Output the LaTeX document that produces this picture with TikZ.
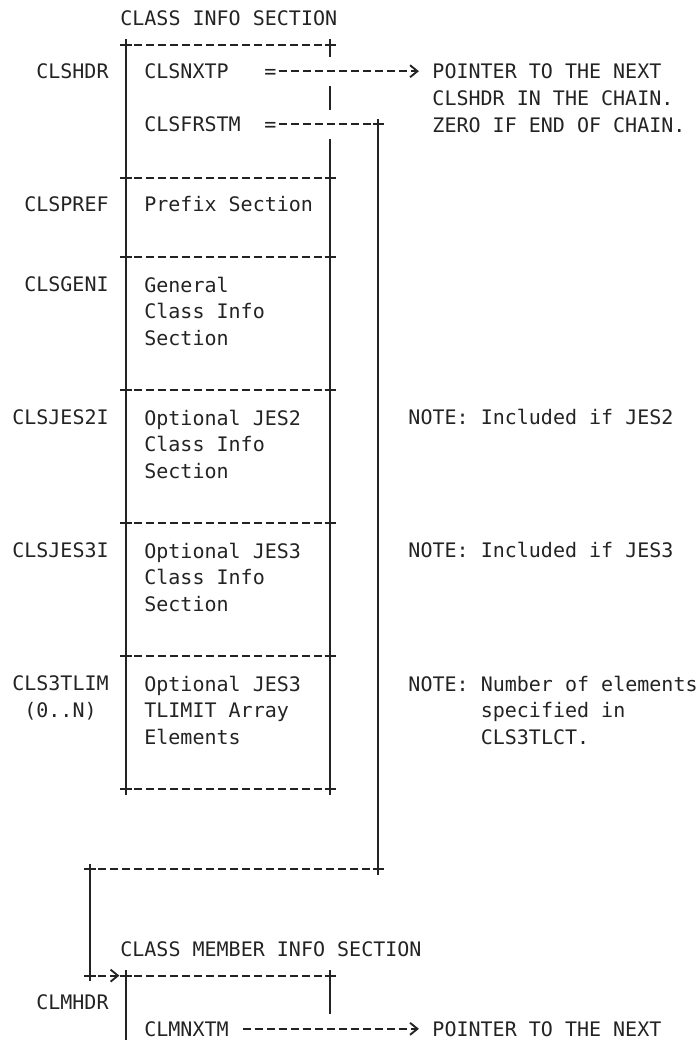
\documentclass[tikz,border=0pt]{standalone}
\usepackage{fontspec}
\usepackage{tikz}
\usetikzlibrary{arrows.meta, fit}
\newfontfamily\clsmono{DejaVu Sans Mono}
\definecolor{ink}{RGB}{35,35,35}

\tikzset{
  every node/.style={text=ink},
  lbl/.style={font=\clsmono\fontsize{15pt}{19.94pt}\selectfont, inner sep=0pt, anchor=west, text height=10.9pt, text depth=0pt},
  blk/.style={font=\clsmono\fontsize{15pt}{19.94pt}\selectfont, inner sep=0pt, anchor=north west, align=left},
  sect/.style={inner sep=0pt, outer sep=0pt, draw=none},
  bar/.style={draw=ink, line width=1.6pt},
  dsh/.style={draw=ink, line width=1.6pt, dash pattern=on 6pt off 3pt, dash phase=3pt},
  dshe/.style={dsh, dash phase=7.5pt},
  tip/.style={-{Straight Barb[length=5.5pt, width=9pt, line width=1.4pt]}},
  ptr/.style={dshe, tip},
  gap/.style={preaction={draw=white, solid, line width=22pt, arrows=-}},
  crn/.pic={\draw[bar] (-4.2pt,0) -- (4.2pt,0) (0,-4.2pt) -- (0,4.2pt);}
}

\begin{document}
\begin{tikzpicture}[x=9pt, y=-19.94pt]
\useasboundingbox (-0.5,-0.677) rectangle (57.5,38.42);

% class info section
\node[lbl] (clstitle) at (9.5,0) {CLASS INFO SECTION};
\node[sect, fit={(10,1) (27,6)}] (hdr) {};
\node[sect, fit={(10,6) (27,9)}] (pref) {};
\node[sect, fit={(10,9) (27,14)}] (geni) {};
\node[sect, fit={(10,14) (27,19)}] (jes2) {};
\node[sect, fit={(10,19) (27,24)}] (jes3) {};
\node[sect, fit={(10,24) (27,29)}] (tlim) {};

\foreach \b in {hdr,pref,geni,jes2,jes3,tlim} {
  \draw[bar] (\b.north west) -- (\b.south west) (\b.north east) -- (\b.south east);
  \draw[dsh] (\b.north west) -- (\b.north east);
  \draw[dsh] (\b.south west) -- (\b.south east);
  \pic at (\b.north west) {crn};
  \pic at (\b.north east) {crn};
  \pic at (\b.south west) {crn};
  \pic at (\b.south east) {crn};
}

\node[lbl] (clshdr) at (2.5,2) {CLSHDR};
\node[lbl] (nxtp) at (11.5,2) {CLSNXTP};
\node[lbl] (nxtp-eq) at (21.5,2) {=};
\node[lbl] (frstm) at (11.5,4) {CLSFRSTM};
\node[lbl] (frstm-eq) at (21.5,4) {=};
\node[blk] (ptr1) at (35.5,1.72) {POINTER TO THE NEXT\\CLSHDR IN THE CHAIN.\\ZERO IF END OF CHAIN.};

\node[lbl] (clspref) at (1.5,7) {CLSPREF};
\node[lbl] (pref-txt) at (11.5,7) {Prefix Section};

\node[lbl] (clsgeni) at (1.5,10) {CLSGENI};
\node[blk] (geni-txt) at (11.5,9.72) {General\\Class Info\\Section};

\node[lbl] (clsjes2i) at (0.5,15) {CLSJES2I};
\node[blk] (jes2-txt) at (11.5,14.72) {Optional JES2\\Class Info\\Section};
\node[lbl] (note-jes2) at (33.5,15) {NOTE: Included if JES2};

\node[lbl] (clsjes3i) at (0.5,20) {CLSJES3I};
\node[blk] (jes3-txt) at (11.5,19.72) {Optional JES3\\Class Info\\Section};
\node[lbl] (note-jes3) at (33.5,20) {NOTE: Included if JES3};

\node[blk, align=center] (cls3tlim) at (0.5,24.72) {CLS3TLIM\\(0..N)};
\node[blk] (tlim-txt) at (11.5,24.72) {Optional JES3\\TLIMIT Array\\Elements};
\node[blk] (note-tlim) at (33.5,24.72) {NOTE: Number of elements\\\phantom{NOTE:\ }specified in\\\phantom{NOTE:\ }CLS3TLCT.};

% class member info section
\node[lbl] (memtitle) at (9.5,35) {CLASS MEMBER INFO SECTION};
\node[sect, fit={(10,36) (27,38.42)}] (mem) {};
\draw[bar] (mem.south west) -- (mem.north west) (mem.north east) -- (mem.south east);
\draw[dsh] (mem.north west) -- (mem.north east);
\pic at (mem.north west) {crn};
\pic at (mem.north east) {crn};
\node[lbl] (clmhdr) at (2.5,37) {CLMHDR};
\node[lbl] (clmnxtm) at (11.5,38) {CLMNXTM};
\node[lbl] (ptr2) at (35.5,38) {POINTER TO THE NEXT};

% pointers
\draw[ptr, gap, shorten >=10pt] (nxtp-eq.east) -- (nxtp-eq.east -| ptr1.west);
\draw[ptr, gap, shorten >=10pt] ([xshift=9pt]clmnxtm.east) -- (ptr2.west);

\coordinate (drop) at (31,4);
\coordinate (lowR) at (31,32);
\coordinate (lowL) at (7,32);
\coordinate (bend) at (7,36);
\draw[dshe, gap] (frstm-eq.east) -- (drop);
\draw[bar] (drop) -- (lowR);
\draw[dsh] (lowR) -- (lowL);
\draw[bar] (lowL) -- (bend);
\draw[dsh, tip, shorten >=5pt] (bend) -- (mem.north west);
\foreach \c in {drop,lowR,lowL,bend} \pic at (\c) {crn};
\end{tikzpicture}
\end{document}
